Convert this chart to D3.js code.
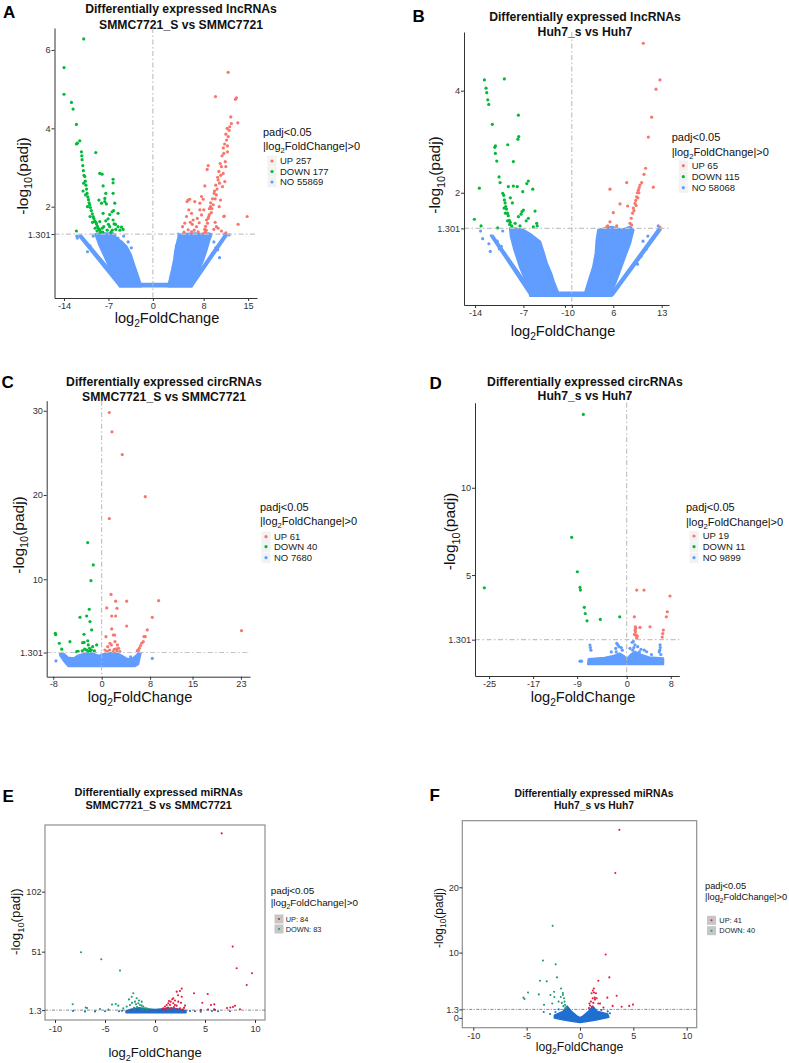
<!DOCTYPE html>
<html><head><meta charset="utf-8">
<script src="https://cdn.jsdelivr.net/npm/d3@7"></script>
<style>
body{margin:0;background:#fff}
svg{display:block}
text{font-family:"Liberation Sans",Arial,Helvetica,sans-serif}
</style>
</head><body>
<svg id="chart" width="789" height="1063"></svg>
<script>
// ---------------- DATA ----------------
// Panel A: lncRNAs SMMC7721_S vs SMMC7721
const A_xTicks = [-14, -7, 0, 8, 15];
const A_yTicks = [1.301, 2, 4, 6];
const A_legend = ["UP 257", "DOWN 177", "NO 55869"];
const A_up = [[11.86,5.43],[9.86,4.81],[13.17,4.78],[13.0,4.74],[13.38,4.14],[12.37,4.12],[12.27,4.29],[12.1,4.04],[12.0,3.95],[11.86,3.79],[11.75,3.55],[11.75,3.4],[11.6,3.7],[11.49,3.02],[11.4,3.15],[11.33,2.64],[11.17,3.36],[11.07,2.85],[10.96,2.51],[10.8,3.02],[10.7,2.8],[10.65,2.17],[10.5,2.6],[10.44,2.0],[10.28,2.68],[10.1,2.45],[10.0,2.3],[9.8,2.2],[9.65,2.34],[9.5,2.05],[9.3,1.95],[9.07,2.0],[8.9,1.8],[8.7,1.7],[8.44,1.66],[8.3,1.5],[8.15,1.42],[8.02,1.32],[8.71,3.05],[8.55,2.95],[8.18,2.53],[7.92,2.19],[7.66,2.26],[7.4,2.09],[7.39,1.92],[7.66,1.79],[7.29,1.59],[8.02,1.92],[6.87,1.49],[6.6,2.13],[6.34,1.66],[6.08,1.83],[5.8,2.19],[5.65,1.92],[5.55,2.17],[5.38,2.13],[5.3,1.75],[5.03,1.58],[4.67,1.49],[5.56,1.41],[6.08,1.36],[7.13,1.36],[4.9,1.35],[6.5,1.4],[7.0,1.7],[6.2,1.55],[5.9,1.6],[10.01,1.49],[10.28,1.45],[11.18,1.75],[14.85,1.75],[13.43,1.55],[11.23,1.76],[9.8,1.6],[9.6,1.42],[10.8,1.38],[11.5,1.33],[8.6,1.58],[8.8,1.75],[9.2,1.85],[9.4,2.2],[9.7,2.4],[9.9,2.55],[10.2,2.75],[10.4,2.9],[10.6,3.1],[10.9,3.3],[11.1,3.5],[11.3,3.6],[11.5,3.85],[11.7,4.0],[8.4,1.4],[8.25,1.35],[8.9,1.95],[9.1,2.1]];
const A_down = [[-10.9,6.28],[-14.0,5.55],[-14.0,4.87],[-12.83,4.66],[-12.57,4.49],[-12.05,4.1],[-11.52,3.68],[-12.05,3.6],[-11.9,3.62],[-9.0,3.38],[-11.26,3.4],[-11.2,3.3],[-11.15,3.2],[-11.05,3.05],[-10.95,2.92],[-10.85,2.8],[-10.73,2.77],[-10.65,2.65],[-10.55,2.55],[-10.45,2.45],[-10.37,2.34],[-10.25,2.25],[-10.15,2.18],[-10.05,2.1],[-9.95,2.05],[-9.85,1.98],[-9.7,1.9],[-9.55,1.82],[-9.42,1.75],[-9.3,1.7],[-9.15,1.64],[-9.0,1.6],[-8.89,1.56],[-8.75,1.5],[-8.6,1.45],[-8.5,1.42],[-8.37,1.4],[-8.25,1.35],[-8.8,1.38],[-9.1,1.45],[-9.5,1.6],[-9.9,1.75],[-10.3,2.0],[-10.6,2.3],[-10.9,2.6],[-11.0,2.4],[-8.37,2.85],[-8.0,2.83],[-6.27,2.7],[-6.27,2.61],[-7.84,2.53],[-7.42,2.34],[-6.27,2.34],[-8.1,2.09],[-7.32,2.07],[-6.0,2.09],[-7.58,2.13],[-6.43,1.87],[-5.49,1.83],[-7.06,1.69],[-7.42,1.64],[-6.11,1.56],[-5.49,1.49],[-4.69,1.42],[-4.95,1.48],[-12.05,1.38],[-7.74,1.49],[-6.8,1.49],[-7.2,1.4],[-6.4,1.4],[-5.85,1.42],[-5.2,1.4],[-8.37,1.62],[-7.84,1.83],[-8.5,2.17],[-7.57,2.21],[-6.27,1.66],[-6.8,1.8],[-7.0,1.55],[-6.6,1.35],[-7.9,1.35],[-8.0,1.45],[-5.9,1.55],[-6.2,1.9]];
const A_noPolys = [
  [[-11.6,1.25],[-11.35,1.27],[-4.95,0.03],[-5.2,-0.03]],
  [[-9.05,1.3],[-8.1,1.32],[-6.27,1.32],[-5.74,1.19],[-4.95,1.11],[-4.16,0.98],[-3.48,0.77],[-2.96,0.51],[-2.43,0.26],[-1.9,0.0],[-1.9,-0.03],[-5.0,-0.03],[-5.8,0.17],[-6.86,0.47],[-7.7,0.77],[-8.43,1.02]],
  [[-5.22,-0.03],[6.08,-0.03],[6.0,0.03],[-5.1,0.03]],
  [[4.08,1.25],[4.5,1.3],[6.6,1.32],[7.92,1.3],[8.7,1.32],[9.23,1.3],[8.81,1.11],[8.44,0.9],[7.92,0.64],[7.23,0.39],[6.5,0.13],[6.0,-0.03],[2.4,-0.03],[2.66,0.13],[3.03,0.39],[3.35,0.64],[3.56,0.9],[3.87,1.11]],
  [[11.35,1.28],[11.6,1.26],[6.1,-0.03],[5.85,0.0]]
];
const A_noPts = [[-12.0,1.25],[-11.9,1.2],[-6.0,1.28],[-5.5,1.2],[-4.6,1.25],[-3.9,1.1],[-3.4,0.95],[4.0,1.3],[3.7,1.0],[9.6,1.1],[9.9,0.95],[10.2,0.9],[9.4,0.8],[11.2,1.3],[12.0,1.28],[-7.1,1.2],[-9.4,1.25],[-9.9,1.0],[-10.3,0.85],[10.5,0.7]];

// Panel B: lncRNAs Huh7_s vs Huh7
const B_xTicks = [-14, -7, -1, 0, 6, 13];
const B_yTicks = [1.301, 2, 4];
const B_legend = ["UP 65", "DOWN 115", "NO 58068"];
const B_up = [[10.34,4.93],[12.75,4.21],[12.18,4.03],[11.55,3.48],[11.07,3.09],[10.68,2.48],[10.44,2.36],[10.1,2.2],[11.79,2.11],[7.94,2.2],[5.52,2.07],[6.97,1.78],[6.0,1.61],[8.08,1.74],[5.52,1.43],[5.05,1.33],[5.2,1.35],[6.49,1.35],[12.75,1.32],[8.66,1.37],[8.42,1.4],[8.6,1.5],[8.79,1.6],[8.9,1.7],[9.14,1.79],[9.25,1.85],[9.38,1.92],[9.5,2.0],[9.62,2.05],[9.75,2.1],[9.86,2.15],[9.0,1.65],[9.3,1.75],[9.55,1.9],[9.7,2.0]];
const B_down = [[-12.65,4.21],[-12.41,4.05],[-12.31,3.96],[-12.16,3.82],[-12.02,3.73],[-9.76,4.23],[-7.73,3.52],[-11.5,3.34],[-7.68,3.1],[-7.8,3.05],[-9.27,2.94],[-11.15,2.89],[-11.05,2.92],[-11.06,2.77],[-10.86,2.62],[-8.46,2.61],[-10.53,2.31],[-13.38,2.09],[-10.38,2.2],[-9.18,2.12],[-8.46,2.13],[-7.9,2.12],[-6.29,2.23],[-6.52,2.18],[-5.65,2.07],[-7.1,2.02],[-9.99,1.99],[-9.85,1.95],[-9.76,1.86],[-9.65,1.8],[-9.56,1.73],[-9.45,1.68],[-9.32,1.6],[-9.2,1.55],[-9.04,1.46],[-8.9,1.42],[-8.69,1.35],[-9.6,1.6],[-9.3,1.45],[-9.0,1.38],[-9.8,1.7],[-7.0,1.66],[-7.2,1.63],[-7.35,1.58],[-7.73,1.53],[-6.29,1.5],[-5.32,1.64],[-5.08,1.4],[-5.57,1.33],[-5.01,1.35],[-10.72,1.31],[-13.13,1.35],[-14.1,1.48],[-8.2,1.4],[-7.5,1.35],[-6.6,1.45],[-8.6,1.8],[-8.9,1.9]];
const B_noPolys = [
  [[-11.7,1.16],[-11.45,1.16],[-5.65,0.03],[-5.9,-0.02]],
  [[-8.94,1.3],[-8.21,1.3],[-7.01,1.27],[-5.8,1.17],[-4.6,1.04],[-4.12,0.84],[-3.63,0.62],[-3.0,0.42],[-2.53,0.22],[-1.95,0.03],[-1.95,-0.02],[-5.7,-0.02],[-6.5,0.22],[-7.5,0.55],[-8.3,0.88],[-8.8,1.14]],
  [[-6.04,-0.02],[5.77,-0.02],[5.7,0.04],[-5.95,0.04]],
  [[3.83,1.27],[5.77,1.33],[7.22,1.27],[8.42,1.33],[8.9,1.27],[8.42,1.01],[7.69,0.75],[6.97,0.48],[6.25,0.22],[5.6,0.03],[1.91,0.03],[2.49,0.29],[3.11,0.55],[3.46,0.81],[3.6,1.07]],
  [[12.6,1.3],[12.85,1.28],[5.95,0.0],[5.7,0.02]]
];
const B_noPts = [[-13.2,1.25],[-12.9,1.1],[-12.0,1.0],[-11.8,0.85],[-10.8,1.05],[-10.2,0.95],[-9.8,0.8],[-10.5,0.9],[-6.5,1.0],[-6.0,0.9],[-5.2,0.75],[-4.8,0.6],[10.3,1.05],[10.8,0.9],[10.0,0.75],[11.0,1.15],[9.5,0.6],[12.5,1.35],[-7.5,1.2],[-10.0,1.25]];

// Panel C: circRNAs SMMC7721_S vs SMMC7721
const C_xTicks = [-8, 0, 8, 15, 23];
const C_yTicks = [1.301, 10, 20, 30];
const C_legend = ["UP 61", "DOWN 40", "NO 7680"];
const C_up = [[1.26,29.8],[1.7,27.5],[3.4,24.8],[7.2,19.8],[1.26,17.2],[1.54,8.2],[2.31,7.4],[4.13,7.4],[9.41,7.46],[0.83,6.6],[2.53,6.55],[1.65,5.64],[2.31,5.64],[8.36,5.48],[4.13,4.45],[1.65,4.1],[7.53,3.98],[23.1,3.9],[2.15,3.38],[7.2,3.18],[6.99,3.2],[6.6,2.4],[6.87,2.6],[6.21,1.8],[6.05,1.6],[5.88,1.5],[6.4,2.1],[0.71,3.18],[1.37,2.4],[1.92,3.38],[2.08,1.69],[2.42,1.75],[0.55,1.6],[1.0,2.0],[1.6,2.2],[2.2,2.6],[2.6,2.2],[2.5,1.5],[1.9,1.4],[0.9,1.45],[1.3,1.6],[3.0,1.4],[2.8,1.8]];
const C_down = [[-2.31,14.35],[-1.39,11.7],[-1.77,9.83],[-2.05,6.44],[-3.58,5.49],[-2.48,5.64],[-1.93,4.97],[-7.66,3.59],[-7.6,3.42],[-1.65,3.98],[-2.92,3.47],[-7.0,2.4],[-5.24,2.59],[-6.6,1.7],[-4.13,1.4],[-3.9,1.45],[-3.14,2.47],[-2.9,2.5],[-2.21,2.2],[-2.0,1.8],[-2.5,1.6],[-2.2,1.45],[-1.9,1.5],[-0.83,2.2],[-1.5,2.0],[-1.7,1.6],[-2.8,1.7],[-3.2,1.5],[-2.3,2.7],[-1.2,1.5]];
const C_noPolys = [
  [[-6.6,1.25],[-6.2,1.1],[-5.6,0.7],[-4.6,0.6],[-4.0,0.9],[-3.3,1.05],[-2.5,1.2],[-1.6,1.2],[-0.5,0.9],[0.3,1.1],[1.0,1.25],[2.5,1.2],[3.3,0.9],[4.3,0.5],[5.2,0.6],[5.8,1.0],[6.2,1.3],[6.4,1.2],[6.2,0.5],[6.0,-0.1],[5.5,-0.3],[-5.5,-0.3],[-6.1,0.2],[-6.8,0.9]]
];
const C_noPts = [[-7.55,0.3],[8.36,0.6],[-6.8,1.1],[-6.5,1.0],[6.3,1.2],[4.8,0.8]];

// Panel D: circRNAs Huh7_s vs Huh7
const D_xTicks = [-25, -17, -9, 0, 8];
const D_yTicks = [1.301, 5, 10];
const D_legend = ["UP 19", "DOWN 11", "NO 9899"];
const D_up = [[1.82,4.14],[3.14,4.14],[7.86,3.8],[7.37,2.9],[7.19,2.61],[1.38,2.61],[1.56,2.04],[2.41,2.0],[4.23,2.04],[1.6,1.75],[1.7,1.55],[1.8,1.38],[1.5,1.85],[6.65,1.85],[6.55,1.65],[6.45,1.45],[1.65,1.95],[1.4,1.6],[1.9,1.5]];
const D_down = [[-7.88,14.2],[-9.99,7.16],[-8.97,5.19],[-25.86,4.27],[-8.48,4.29],[-8.4,4.14],[-7.7,3.15],[-7.52,2.8],[-7.21,2.38],[-4.79,2.46],[-1.27,2.61]];
const D_noPolys = [
  [[-7.0,-0.1],[6.6,-0.1],[6.6,0.22],[4.0,0.28],[2.5,0.45],[1.5,0.6],[0.8,0.45],[0,0.18],[-0.5,0.35],[-1.3,0.5],[-2.5,0.35],[-4.0,0.25],[-6.9,0.18]]
];
const D_noPts = [[-6.67,0.99],[-6.6,0.85],[-6.5,0.7],[-8.48,0.07],[-8.2,0.07],[-1.82,1.09],[-1.6,1.0],[-1.4,0.9],[-2.0,0.8],[-1.0,0.85],[1.0,1.15],[1.2,1.2],[1.5,1.0],[1.3,0.85],[2.0,0.9],[2.6,0.75],[3.63,0.61],[3.2,0.7],[-0.8,0.7],[0.6,0.8],[6.05,1.0],[6.1,0.85],[6.0,0.7],[5.9,0.6],[6.2,0.45],[-2.8,0.6],[4.5,0.45],[-1.9,0.6],[1.1,0.7],[2.3,0.6]];

// Panel E: miRNAs SMMC7721_S vs SMMC7721
const E_xTicks = [-10, -5, 0, 5, 10];
const E_yTicks = [1.3, 51, 102];
const E_legend = ["UP: 84", "DOWN: 83"];
const E_up = [[6.67,151.6],[7.77,55.3],[8.17,36.9],[9.7,32.6],[9.17,22.7],[3.9,15.6],[5.27,15.0],[4.73,7.6],[5.6,5.6],[5.93,6.2],[7.53,3.5],[7.8,4.0],[8.0,5.0],[7.2,3.0],[2.67,19.6],[2.5,17.6],[2.17,17.0],[2.67,12.7],[1.83,11.4],[1.73,10.5],[1.57,8.5],[1.33,7.1],[1.17,5.7],[1.0,4.3],[1.5,5.7],[1.83,7.1],[2.0,5.7],[2.33,8.5],[2.17,5.1],[0.83,2.9],[1.17,2.9],[0.7,2.0],[2.77,1.7],[2.5,2.9],[3.0,5.1],[1.67,2.9],[2.0,9.5],[1.4,9.0],[2.3,14.0],[1.9,4.0],[1.3,3.5],[2.6,7.5],[2.9,3.2],[0.9,1.9],[1.6,2.0],[2.2,2.2],[5.3,1.8],[5.9,2.0],[6.0,1.5],[8.5,2.0],[4.6,1.5]];
const E_down = [[-7.4,50.5],[-5.37,44.5],[-3.5,34.9],[-8.23,6.3],[-6.93,3.5],[-6.8,3.0],[-5.5,2.3],[-4.3,6.0],[-3.93,6.5],[-4.67,1.7],[-2.17,15.6],[-2.33,12.7],[-1.83,11.4],[-2.0,8.5],[-1.67,7.1],[-1.5,5.7],[-1.33,5.1],[-1.17,4.3],[-1.0,2.9],[-2.5,5.7],[-2.83,4.3],[-3.17,2.9],[-3.67,5.1],[-2.6,10.4],[-1.33,8.5],[-0.83,2.9],[-1.17,1.7],[-0.67,2.3],[-1.5,3.0],[-1.8,4.0],[-2.1,3.2],[-1.9,6.3],[-2.3,7.5],[-1.6,9.5],[-0.9,2.0]];
const E_noPolys = [
  [[-2.9,0.5],[-2.4,2.0],[-1.6,3.3],[-0.9,2.5],[0,1.8],[0.9,2.5],[1.6,3.0],[2.5,2.0],[3.1,0.8],[3.1,-0.8],[-2.9,-0.8]]
];
const E_noPts = [[-8.2,0.5],[-7.0,0.2],[-5.0,0.4],[-3.6,0.4],[-3.3,0.8],[4.0,0.3],[4.57,0.0],[6.3,0.4],[5.7,0.5],[7.5,0.3],[-6.0,0.2],[3.5,0.5]];

// Panel F: miRNAs Huh7_s vs Huh7
const F_xTicks = [-10, -5, 0, 5, 10];
const F_yTicks = [0, 1.3, 10, 20];
const F_legend = ["UP: 41", "DOWN: 40"];
const F_up = [[3.69,28.8],[3.31,22.2],[2.41,9.7],[2.75,6.2],[1.72,5.7],[3.44,3.4],[2.56,3.1],[4.97,2.04],[4.62,1.84],[3.9,1.7],[3.06,1.84],[1.09,3.78],[1.31,3.88],[1.5,3.78],[1.19,3.0],[1.38,3.1],[1.56,3.0],[1.03,2.5],[1.25,2.3],[0.94,1.9],[0.84,1.5],[1.72,2.2],[1.88,2.2],[1.41,2.8],[0.88,2.2],[1.1,1.7],[2.2,1.6],[1.3,4.5],[1.2,4.2]];
const F_down = [[-2.56,14.1],[-3.47,8.8],[-2.28,8.2],[-2.16,6.2],[-3.75,5.7],[-3.12,5.6],[-1.78,4.5],[-4.87,3.9],[-5.3,3.1],[-5.2,2.9],[-3.86,3.6],[-2.77,3.5],[-2.43,4.0],[-2.4,3.2],[-3.37,2.0],[-2.6,2.2],[-1.6,3.5],[-1.5,3.0],[-1.45,2.5],[-1.4,2.0],[-1.35,1.6],[-1.7,2.3],[-1.55,1.8],[-1.8,3.2],[-1.3,1.5],[-1.6,3.8],[-2.0,2.5]];
const F_noPolys = [
  [[-2.4,0.4],[-1.6,1.0],[-1.2,1.8],[-0.8,1.0],[-0.3,0.3],[0,0.05],[0.3,0.3],[0.8,1.0],[1.2,1.8],[1.6,1.0],[2.6,0.6],[2.7,0.1],[1.5,-0.3],[0.5,-0.6],[0,-0.7],[-0.5,-0.6],[-1.5,-0.3],[-2.4,0.0]]
];
const F_noPts = [[-3.4,0.9],[-2.8,0.6],[-2.3,0.9],[2.0,1.2],[2.81,0.72],[2.6,1.0],[-2.0,1.3]];

// ---------------- LAYOUT ----------------
const GG = {up:"#F8766D", down:"#00BA38", no:"#619CFF"};
const BW = {up:"#E8193C", down:"#1E9E6E", no:"#1E6FD0"};

const panels = [
 {letter:"A", lx:3, ly:18.3, title:["Differentially expressed lncRNAs","SMMC7721_S vs SMMC7721"], tx:181, ty:[13,28.5], tfs:12.2,
  xd:[-15.5,16.4], xr:[54.5,257], yd:[-0.33,6.56], yr:[298,28], xt:A_xTicks, yt:A_yTicks, thr:1.301,
  up:A_up, down:A_down, polys:A_noPolys, noPts:A_noPts, leg:A_legend, style:"gg",
  ytx:27.5, yty:176, xtx:167, xty:322.5, lgx:263, lgy:[136,150], items:[161,171.5,182], kx:272, ktx:280},
 {letter:"B", lx:412.5, ly:21.7, title:["Differentially expressed lncRNAs","Huh7_s vs Huh7"], tx:585, ty:[20.5,35.5], tfs:12.2,
  xd:[-15.6,14.06], xr:[464,669], yd:[-0.2,5.15], yr:[305,32], xt:B_xTicks, yt:B_yTicks, thr:1.301,
  up:B_up, down:B_down, polys:B_noPolys, noPts:B_noPts, leg:B_legend, style:"gg",
  ytx:440, yty:175, xtx:563, xty:335.5, lgx:671.7, lgy:[141,155.7], items:[165.7,176.7,187.7], kx:683.3, ktx:691.7},
 {letter:"C", lx:1.5, ly:388.3, title:["Differentially expressed circRNAs","SMMC7721_S vs SMMC7721"], tx:164, ty:[386,400.7], tfs:12.2,
  xd:[-9.08,24.5], xr:[46.7,250], yd:[-1.57,31.2], yr:[676.7,400.7], xt:C_xTicks, yt:C_yTicks, thr:1.301,
  up:C_up, down:C_down, polys:C_noPolys, noPts:C_noPts, leg:C_legend, style:"gg",
  ytx:23.5, yty:535, xtx:140, xty:701.5, lgx:260, lgy:[510.7,525], items:[536.7,546.7,557.7], kx:266, ktx:274},
 {letter:"D", lx:429.5, ly:389.3, title:["Differentially expressed circRNAs","Huh7_s vs Huh7"], tx:585, ty:[385.7,400], tfs:12.2,
  xd:[-27.55,9.55], xr:[475,679.3], yd:[-0.78,14.87], yr:[676,402.7], xt:D_xTicks, yt:D_yTicks, thr:1.301,
  up:D_up, down:D_down, polys:D_noPolys, noPts:D_noPts, leg:D_legend, style:"gg",
  ytx:455, yty:531.5, xtx:583, xty:701.5, lgx:686, lgy:[511.3,525.7], items:[536,546.7,557.7], kx:694, ktx:702.7},
 {letter:"E", lx:2.5, ly:801.7, title:["Differentially expressed miRNAs","SMMC7721_S vs SMMC7721"], tx:158.7, ty:[796,809.3], tfs:10.9,
  xd:[-11,11], xr:[45,265], yd:[-7.1,158.7], yr:[1020,825], xt:E_xTicks, yt:E_yTicks, thr:1.3,
  up:E_up, down:E_down, polys:E_noPolys, noPts:E_noPts, leg:E_legend, style:"bw",
  ytx:20, yty:921.7, ytfs:13.3, xtx:155, xty:1057, xtfs:13, lgx:270.7, lgy:[894,906], lgfs:9.9, items:[919,929], kx:279, ktx:285.7, itfs:7.4},
 {letter:"F", lx:429.5, ly:801, title:["Differentially expressed miRNAs","Huh7_s vs Huh7"], tx:594, ty:[796.7,809.3], tfs:10.3,
  xd:[-11.03,10.94], xr:[462.3,696.7], yd:[-1.5,30.2], yr:[1027.7,820.7], xt:F_xTicks, yt:F_yTicks, thr:1.3,
  up:F_up, down:F_down, polys:F_noPolys, noPts:F_noPts, leg:F_legend, style:"bw",
  ytx:442.5, yty:918, ytfs:12, xtx:579.5, xty:1050.5, xtfs:12.2, lgx:705, lgy:[889,900], lgfs:9.3, items:[920.3,930.7], kx:711.5, ktx:719.3, itfs:7.4}
];

// ---------------- DRAW ----------------
const svg = d3.select("#chart");
svg.append("rect").attr("width",789).attr("height",1063).attr("fill","#fff");

function subText(sel, parts, fs) {
  parts.forEach(([t, sub], i) => {
    const ts = sel.append("tspan").text(t);
    if (sub) ts.attr("font-size", fs*0.7).attr("dy", fs*0.3);
    else if (i > 0 && parts[i-1][1]) ts.attr("dy", -fs*0.3);
  });
}

panels.forEach(p => {
  const g = svg.append("g");
  const gg = p.style === "gg";
  const col = gg ? GG : BW;
  const r = gg ? 1.6 : 1.05;
  const x = d3.scaleLinear().domain(p.xd).range(p.xr);
  const y = d3.scaleLinear().domain(p.yd).range(p.yr);

  g.append("text").attr("x", p.lx).attr("y", p.ly).attr("font-size", 17).attr("font-weight", "bold").attr("fill", "#000").text(p.letter);
  p.title.forEach((t, i) => g.append("text").attr("x", p.tx).attr("y", p.ty[i]).attr("text-anchor", "middle")
     .attr("font-size", p.tfs).attr("font-weight", "bold").attr("fill", "#111").text(t));

  if (!gg) {
    g.append("rect").attr("x", p.xr[0]).attr("y", p.yr[1]).attr("width", p.xr[1]-p.xr[0]).attr("height", p.yr[0]-p.yr[1])
     .attr("fill", "#fff").attr("stroke", "#8f8f8f").attr("stroke-width", 1.2);
  }

  const line = d3.line().x(d => x(d[0])).y(d => y(d[1])).curve(d3.curveLinearClosed);
  g.append("g").selectAll("path").data(p.polys).join("path").attr("d", line)
    .attr("fill", col.no).attr("stroke", col.no).attr("stroke-width", r*1.5).attr("stroke-linejoin", "round");
  const dots = (data, c) => g.append("g").selectAll("circle").data(data).join("circle")
    .attr("cx", d => x(d[0])).attr("cy", d => y(d[1])).attr("r", r).attr("fill", c);
  dots(p.noPts, col.no);
  dots(p.down, col.down);
  dots(p.up, col.up);

  if (gg) {
    g.append("line").attr("x1", x(0)).attr("x2", x(0)).attr("y1", p.yr[1]).attr("y2", p.yr[0])
      .attr("stroke", "#b5b5b5").attr("stroke-width", 1).attr("stroke-dasharray", "5,2.5,1.5,2.5");
    g.append("line").attr("x1", p.xr[0]).attr("x2", p.xr[1]).attr("y1", y(p.thr)).attr("y2", y(p.thr))
      .attr("stroke", "#c4c4c4").attr("stroke-width", 1.2).attr("stroke-dasharray", "5,2.5,1.5,2.5");
  } else {
    g.append("line").attr("x1", p.xr[0]).attr("x2", p.xr[1]).attr("y1", y(p.thr)).attr("y2", y(p.thr))
      .attr("stroke", "#555").attr("stroke-width", 0.7).attr("stroke-dasharray", "3,1.5,1,1.5");
  }

  const fmt = d => String(d);
  const ax = g.append("g").attr("transform", `translate(0,${p.yr[0]})`)
    .call(d3.axisBottom(x).tickValues(p.xt).tickFormat(fmt).tickSize(3).tickSizeOuter(0).tickPadding(gg ? 1 : 2.2));
  const ay = g.append("g").attr("transform", `translate(${p.xr[0]},0)`)
    .call(d3.axisLeft(y).tickValues(p.yt).tickFormat(fmt).tickSize(3).tickSizeOuter(0).tickPadding(gg ? 0.8 : 0.4));
  [ax, ay].forEach(a => {
    a.attr("font-family", null).attr("font-size", null);
    a.selectAll("text").attr("font-size", 9.2).attr("fill", "#333");
    a.selectAll(".tick line").attr("stroke", "#333");
    if (gg) a.select(".domain").attr("stroke", "#333").attr("stroke-width", 1);
    else a.select(".domain").remove();
  });

  const ytfs = p.ytfs || 15.5, xtfs = p.xtfs || 14.6;
  const yt = g.append("text").attr("transform", `translate(${p.ytx},${p.yty}) rotate(-90)`).attr("text-anchor", "middle")
    .attr("font-size", ytfs).attr("fill", "#111");
  subText(yt, [["-log",false],["10",true],["(padj)",false]], ytfs);
  const xt = g.append("text").attr("x", p.xtx).attr("y", p.xty).attr("text-anchor", "middle").attr("font-size", xtfs).attr("fill", "#111");
  subText(xt, [["log",false],["2",true],["FoldChange",false]], xtfs);

  const lgfs = p.lgfs || 11, itfs = p.itfs || 9.5;
  g.append("text").attr("x", p.lgx).attr("y", p.lgy[0]).attr("font-size", lgfs).attr("fill", "#111").text("padj<0.05");
  const l2 = g.append("text").attr("x", p.lgx).attr("y", p.lgy[1]).attr("font-size", lgfs).attr("fill", "#111");
  subText(l2, [["|log",false],["2",true],["FoldChange|>0",false]], lgfs);
  const keyCols = [col.up, col.down, col.no];
  p.leg.forEach((t, i) => {
    const cy = p.items[i];
    if (gg) g.append("rect").attr("x", p.kx-4.5).attr("y", cy-5.2).attr("width", 9).attr("height", 10.4).attr("fill", "#f2f2f2");
    else g.append("rect").attr("x", p.kx-4.5).attr("y", cy-4.5).attr("width", 9).attr("height", 9).attr("fill", "#c6c6c6");
    g.append("circle").attr("cx", p.kx).attr("cy", cy).attr("r", r).attr("fill", keyCols[i]);
    g.append("text").attr("x", p.ktx).attr("y", cy).attr("dy", "0.35em").attr("font-size", itfs).attr("fill", "#222").text(t);
  });
});
</script>
</body></html>
